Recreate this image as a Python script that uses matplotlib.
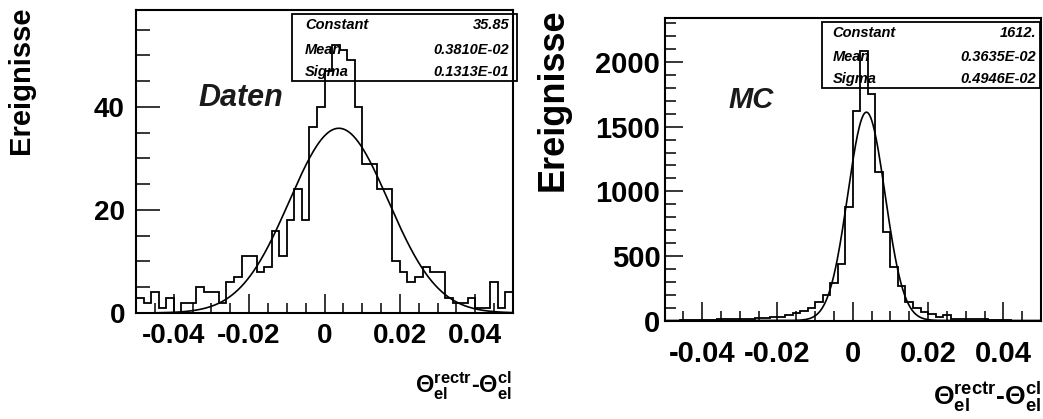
import numpy as np
import matplotlib.pyplot as plt
from matplotlib.patches import Rectangle
from matplotlib.ticker import MultipleLocator

plt.rcParams['font.family'] = 'Liberation Sans'
plt.rcParams['font.weight'] = 'bold'
plt.rcParams['mathtext.fontset'] = 'custom'
plt.rcParams['mathtext.rm'] = 'Liberation Sans:bold'
plt.rcParams['mathtext.it'] = 'Liberation Sans:bold'
plt.rcParams['mathtext.bf'] = 'Liberation Sans:bold'

# histogram binning: 50 bins from -0.05 to 0.05
x_lo, x_hi, n_bins = -0.05, 0.05, 50

daten_counts = [3, 2, 4, 1, 3, 0, 2, 2, 5, 4,
                4, 2, 6, 7, 11, 11, 8, 9, 16, 11,
                18, 24, 18, 36, 40, 47, 52, 51, 49, 40,
                29, 29, 24, 24, 10, 8, 6, 7, 9, 8,
                8, 3, 2, 2, 3, 1, 1, 6, 1, 4]

mc_counts = [0, 0, 1, 1, 2, 5, 5, 8, 8, 8,
             8, 13, 21, 21, 28, 28, 44, 60, 75, 95,
             145, 200, 290, 435, 881, 1620, 2083, 1750, 1152, 687,
             416, 266, 145, 93, 67, 49, 28, 41, 15, 15,
             8, 8, 8, 2, 1, 1, 0, 0, 0, 0]

# gaussian fit results (Constant, Mean, Sigma)
daten_fit = (35.85, 0.3810e-2, 0.1313e-1)
mc_fit = (1612., 0.3635e-2, 0.4946e-2)
stat_names = ['Constant', 'Mean', 'Sigma']
daten_stats = ['35.85', '0.3810E-02', '0.1313E-01']
mc_stats = ['1612.', '0.3635E-02', '0.4946E-02']

x_ticks = [-0.04, -0.02, 0, 0.02, 0.04]
x_ticklabels = ['-0.04', '-0.02', '0', '0.02', '0.04']
daten_yticks = [0, 20, 40]
mc_yticks = [0, 500, 1000, 1500, 2000]

W, H = 1043, 419
fig = plt.figure(figsize=(W / 100, H / 100), dpi=100)

ax1 = fig.add_axes([136 / W, 1 - 313 / H, 377 / W, 303 / H])
ax2 = fig.add_axes([664.5 / W, 1 - 320.5 / H, 376.5 / W, 302.5 / H])

edges = np.linspace(x_lo, x_hi, n_bins + 1)
xf = np.linspace(x_lo, x_hi, 600)


def draw_panel(ax, counts, fit, stats, ymax, ystep, yticks,
               tsize, xpad, ypad, ylen, box, label, label_pos, label_size):
    ax.stairs(counts, edges, color='black', lw=1.3, baseline=0)
    c, m, s = fit
    ax.plot(xf, c * np.exp(-0.5 * ((xf - m) / s) ** 2), color='black', lw=1.2)
    ax.set_xlim(x_lo, x_hi)
    ax.set_ylim(0, ymax)
    ax.set_xticks(x_ticks, labels=x_ticklabels)
    ax.xaxis.set_minor_locator(MultipleLocator(0.005))
    ax.set_yticks(yticks, labels=[str(v) for v in yticks])
    ax.yaxis.set_minor_locator(MultipleLocator(ystep))
    ax.tick_params(which='both', direction='in', top=False, right=False,
                   width=1.1, labelsize=tsize)
    ax.tick_params(axis='x', which='major', length=14, pad=xpad)
    ax.tick_params(axis='x', which='minor', length=7)
    ax.tick_params(axis='y', which='major', length=ylen[0], pad=ypad)
    ax.tick_params(axis='y', which='minor', length=ylen[1])
    for sp in ax.spines.values():
        sp.set_linewidth(1.5)

    # statistics box
    bx0, bx1, by0, by1, rows, lx, vx = box
    ax.add_patch(Rectangle((bx0, by0), bx1 - bx0, by1 - by0, transform=ax.transAxes,
                           fill=False, lw=1.3, clip_on=False, zorder=3))
    for name, val, ry in zip(stat_names, stats, rows):
        ax.text(lx, ry, name, transform=ax.transAxes, style='italic',
                fontsize=10.5, va='center', ha='left')
        ax.text(vx, ry, val, transform=ax.transAxes, style='italic',
                fontsize=10.5, va='center', ha='right')

    ax.text(label_pos[0], label_pos[1], label, transform=ax.transAxes,
            style='italic', fontsize=label_size, va='center', ha='left',
            color='#1a1a1a')


draw_panel(ax1, daten_counts, daten_fit, daten_stats, 58.8, 5, daten_yticks,
           20, 7, 8, (17, 10),
           (0.414, 1.011, 0.767, 0.987, (0.950, 0.868, 0.795), 0.448, 0.990),
           'Daten', (0.165, 0.71), 22)
draw_panel(ax2, mc_counts, mc_fit, mc_stats, 2341, 100, mc_yticks,
           21, 14, 3, (13, 8),
           (0.418, 0.997, 0.769, 0.987, (0.949, 0.870, 0.798), 0.446, 0.987),
           'MC', (0.17, 0.73), 21)

# y axis titles
fig.text(21 / W, 1 - 80 / H, 'Ereignisse', rotation=90, fontsize=21,
         ha='center', va='center')
fig.text(553 / W, 1 - 100 / H, 'Ereignisse', rotation=90, fontsize=26,
         ha='center', va='center')

# x axis titles
fig.text(512 / W, 1 - 386 / H, r'$\Theta^{rectr}_{el}$-$\Theta^{cl}_{el}$',
         fontsize=17, ha='right', va='center')
fig.text(1041 / W, 1 - 397 / H, r'$\Theta^{rectr}_{el}$-$\Theta^{cl}_{el}$',
         fontsize=19, ha='right', va='center')

fig.savefig('out.png', dpi=100)
